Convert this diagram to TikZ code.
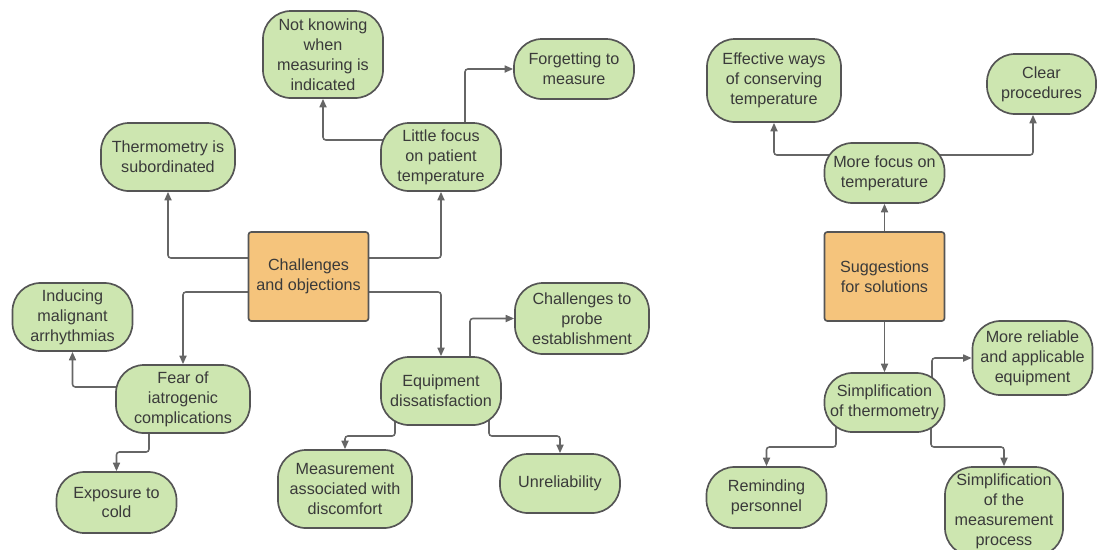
\documentclass[tikz,border=0pt]{standalone}
\usepackage{fontspec}
\setmainfont{Liberation Sans}
\usetikzlibrary{arrows.meta,backgrounds}
\definecolor{leaf}{HTML}{CDE6B0}
\definecolor{hub}{HTML}{F5C47C}
\definecolor{rim}{HTML}{555555}
\definecolor{wire}{HTML}{666666}
\definecolor{ink}{HTML}{3A3A3A}
\tikzset{
	idea/.style={draw=rim, fill=leaf, line width=1.2pt, rounded corners=0.7cm, align=center, text=ink,
		font=\fontsize{11.5}{14.2}\selectfont, inner sep=1pt, minimum width=3cm, minimum height=1.7cm},
	hubbox/.style={idea, fill=hub, rounded corners=2pt, minimum height=2.225cm},
	link/.style={draw=wire, line width=1.1pt, rounded corners=2pt, -{Triangle[length=6pt,width=5pt]}}
}

\begin{document}
\begin{tikzpicture}[x=0.025cm, y=-0.025cm]
		\useasboundingbox (0,0) rectangle (1097,549);
		\node[hubbox] (chal) at (308.5,276.5) {Challenges\\and objections};
		\node[idea, minimum width=3.35cm] (therm) at (168,157) {Thermometry is\\subordinated};
		\node[idea, minimum height=2.175cm] (notknow) at (323,54.5) {Not knowing\\when\\measuring is\\indicated};
		\node[idea] (little) at (441,157) {Little focus\\on patient\\temperature};
		\node[idea, minimum height=1.5cm] (forget) at (574,69) {Forgetting to\\measure};
		\node[idea] (induce) at (72.5,317) {Inducing\\malignant\\arrhythmias};
		\node[idea, minimum width=3.35cm] (fear) at (183,399) {Fear of\\iatrogenic\\complications};
		\node[idea, minimum height=1.525cm] (expo) at (116.5,502.5) {Exposure to\\cold};
		\node[idea] (equip) at (441,391) {Equipment\\dissatisfaction};
		\node[idea, minimum width=3.35cm, minimum height=1.775cm] (probe) at (582,318.5) {Challenges to\\probe\\establishment};
		\node[idea, minimum width=3.35cm, minimum height=1.95cm] (meas) at (345,489) {Measurement\\associated with\\discomfort};
		\node[idea, minimum height=1.475cm] (unrel) at (560,483.5) {Unreliability};

		\node[hubbox] (sugg) at (884.5,276.5) {Suggestions\\for solutions};
		\node[idea, minimum height=1.5cm] (morefocus) at (884.5,173) {More focus on\\temperature};
		\node[idea, minimum width=3.35cm, minimum height=2.075cm] (effect) at (774,80.5) {Effective ways\\of conserving\\temperature};
		\node[idea, minimum width=2.725cm, minimum height=1.5cm] (clear) at (1041.5,84) {Clear\\procedures};
		\node[idea, minimum height=1.475cm] (simp) at (884.5,402.5) {Simplification\\of thermometry};
		\node[idea, minimum height=1.85cm] (reliable) at (1032.5,358) {More reliable\\and applicable\\equipment};
		\node[idea, minimum height=1.525cm] (remind) at (766.5,497.5) {Reminding\\personnel};
		\node[idea, minimum width=2.95cm, minimum height=2.225cm] (simpmeas) at (1004,511.5) {Simplification\\of the\\measurement\\process};

		\begin{pgfonlayer}{background}
		\draw[link] (chal.center |- 0,258) -| (therm);
		\draw[link] (chal.center |- 0,258) -| (little);
		\draw[link] (chal.center |- 0,292) -| (fear);
		\draw[link] (chal.center |- 0,292) -| (equip);
		\draw[link] (little.center |- 0,140) -| (notknow);
		\draw[link] (little.center -| 465,0) |- (forget);
		\draw[link] (fear.center |- 0,387) -| (induce);
		\draw[link] (fear.center -| 149,0) -- (149,452) -| (expo);
		\draw[link] (equip.center -| 470,0) |- (probe);
		\draw[link] (equip.center -| 395,0) -- (395,436) -| (meas);
		\draw[link] (equip.center -| 489,0) -- (489,436) -| (unrel);

		\draw[link] (sugg) -- (morefocus);
		\draw[link] (morefocus.center |- 0,155) -| (effect);
		\draw[link] (morefocus.center |- 0,155) -- (1033,155) -- (clear.south -| 1033,0);
		\draw[link] (sugg) -- (simp);
		\draw[link] (simp.center -| 932,0) |- (reliable);
		\draw[link] (simp.center -| 836,0) -- (836,447) -| (remind);
		\draw[link] (simp.center -| 931,0) -- (931,447) -| (simpmeas);
		\end{pgfonlayer}
	\end{tikzpicture}
\end{document}
